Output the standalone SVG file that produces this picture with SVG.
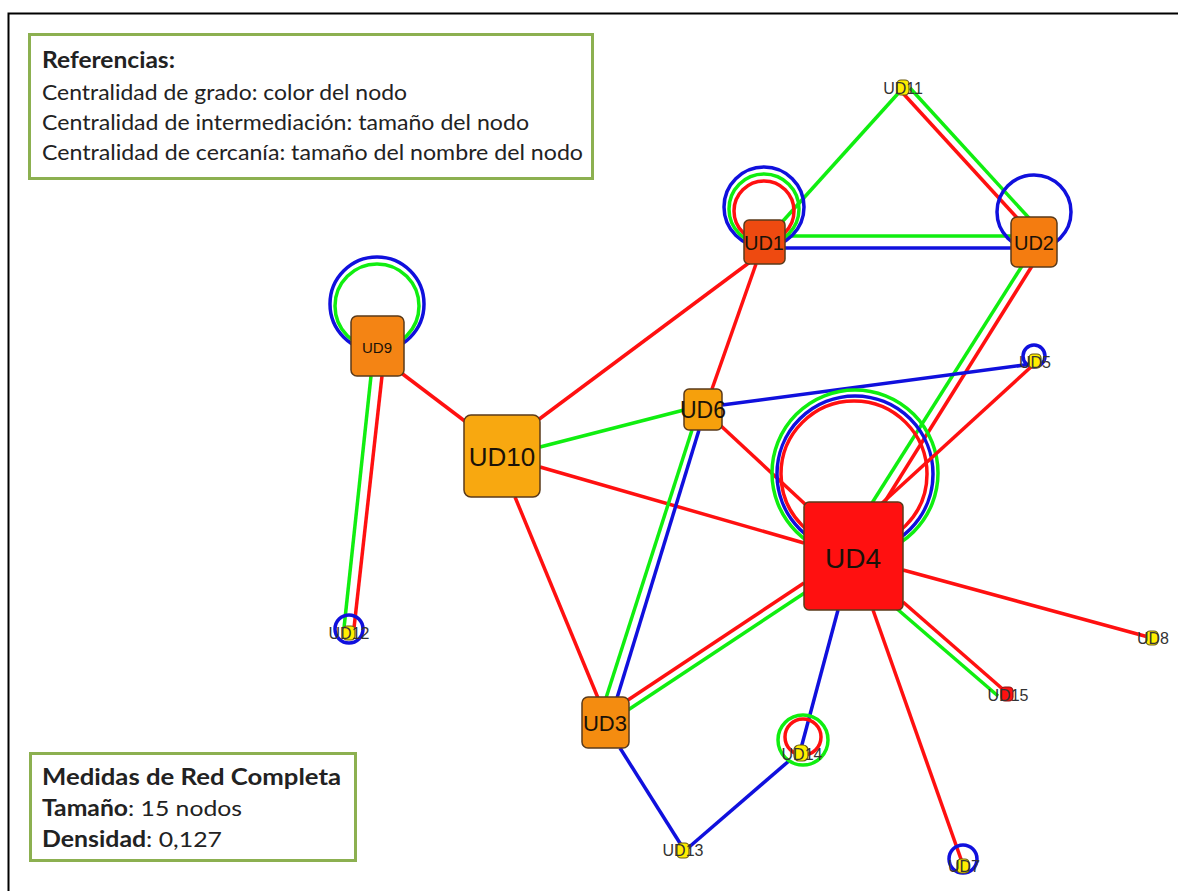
<svg xmlns="http://www.w3.org/2000/svg" width="1178" height="891" viewBox="0 0 1178 891">
<style>
.r{stroke:#ff1010;stroke-width:3.5;fill:none}
.g{stroke:#10ee10;stroke-width:3.5;fill:none}
.b{stroke:#1010dd;stroke-width:3.5;fill:none}
.nd{stroke:#5a3a1a;stroke-width:1.5}
.sm{fill:#ffee00;stroke:#6a5a10;stroke-width:1.2}
.lb{font-family:"Liberation Sans",Arial,sans-serif;fill:#1a1208;text-anchor:middle;dominant-baseline:central}
.ls{font-family:"Liberation Sans",Arial,sans-serif;fill:#333;text-anchor:middle;dominant-baseline:central;font-size:16px}
.lg{font-family:Lato,"Open Sans",sans-serif;fill:#222;font-size:22px}
.box{fill:#fff;stroke:#8cb050;stroke-width:3}
</style>
<rect width="1178" height="891" fill="#fff"/>
<path d="M8.5 891 V13.5 H1178" stroke="#000" stroke-width="2" fill="none"/>
<g id="connectors">
<line class="g" x1="903" y1="88" x2="764" y2="242"/>
<line class="r" x1="900" y1="90" x2="1030" y2="232"/>
<line class="g" x1="910" y1="88" x2="1040" y2="230"/>
<line class="g" x1="785" y1="236" x2="1011" y2="236"/>
<line class="b" x1="785" y1="248" x2="1011" y2="248"/>
<circle class="b" cx="764" cy="207" r="40"/>
<circle class="g" cx="764" cy="209" r="35"/>
<circle class="r" cx="764" cy="211" r="30"/>
<circle class="b" cx="1034" cy="212" r="37"/>
<line class="g" x1="1022" y1="266" x2="872" y2="503"/>
<line class="r" x1="1032" y1="266" x2="884" y2="503"/>
<line class="r" x1="750" y1="262" x2="538" y2="420"/>
<line class="r" x1="756" y1="264" x2="712" y2="389"/>
<circle class="b" cx="377" cy="304" r="47"/>
<circle class="g" cx="377" cy="306" r="42"/>
<line class="r" x1="400" y1="372" x2="466" y2="422"/>
<line class="g" x1="371" y1="376" x2="344" y2="628"/>
<line class="r" x1="382" y1="376" x2="354" y2="628"/>
<circle class="b" cx="349" cy="629" r="14"/>
<line class="g" x1="540" y1="447" x2="684" y2="410"/>
<line class="r" x1="540" y1="467" x2="804" y2="543"/>
<line class="r" x1="515" y1="497" x2="598" y2="698"/>
<line class="b" x1="722" y1="405" x2="1032" y2="364"/>
<circle class="b" cx="1034" cy="356" r="11"/>
<line class="r" x1="720" y1="425" x2="806" y2="505"/>
<line class="g" x1="692" y1="430" x2="606" y2="698"/>
<line class="b" x1="699" y1="430" x2="617" y2="698"/>
<circle class="g" cx="855" cy="473" r="83"/>
<circle class="b" cx="855" cy="474" r="78"/>
<circle class="r" cx="854" cy="474" r="73"/>
<line class="r" x1="880" y1="505" x2="1032" y2="366"/>
<line class="r" x1="903" y1="570" x2="1152" y2="638"/>
<line class="g" x1="896" y1="608" x2="998" y2="696"/>
<line class="r" x1="903" y1="602" x2="1006" y2="692"/>
<line class="r" x1="873" y1="610" x2="962" y2="862"/>
<line class="b" x1="838" y1="610" x2="800" y2="752"/>
<line class="r" x1="804" y1="583" x2="628" y2="700"/>
<line class="g" x1="806" y1="592" x2="628" y2="710"/>
<line class="b" x1="620" y1="748" x2="683" y2="848"/>
<line class="b" x1="790" y1="760" x2="688" y2="848"/>
<circle class="g" cx="803" cy="740" r="25"/>
<circle class="r" cx="803" cy="737" r="18"/>
<circle class="b" cx="963" cy="859" r="14"/>
</g>
<g id="UD11"><rect class="sm" x="897" y="80" width="12" height="15" rx="4"/><text class="ls" x="903" y="88">UD11</text></g>
<g id="UD1"><rect class="nd" x="744" y="220" width="41" height="44" rx="5" fill="#ee4a10"/><text class="lb" x="764" y="243" font-size="20">UD1</text></g>
<g id="UD2"><rect class="nd" x="1011" y="217" width="46" height="50" rx="6" fill="#f47c10"/><text class="lb" x="1034" y="243" font-size="20">UD2</text></g>
<g id="UD9"><rect class="nd" x="351" y="316" width="53" height="60" rx="6" fill="#f48414"/><text class="lb" x="377" y="347" font-size="15">UD9</text></g>
<g id="UD12"><rect class="sm" x="343" y="626" width="12" height="14" rx="4"/><text class="ls" x="349" y="633" font-size="9">UD12</text></g>
<g id="UD10"><rect class="nd" x="464" y="415" width="76" height="82" rx="7" fill="#f8a810"/><text class="lb" x="502" y="457" font-size="26">UD10</text></g>
<g id="UD6"><rect class="nd" x="684" y="389" width="38" height="41" rx="5" fill="#f6a00c"/><text class="lb" x="703" y="410" font-size="23">UD6</text></g>
<g id="UD5"><rect class="sm" x="1029" y="354" width="12" height="14" rx="4"/><text class="ls" x="1035" y="362">UD5</text></g>
<g id="UD4"><rect class="nd" x="804" y="502" width="99" height="108" rx="5" fill="#ff1010"/><text class="lb" x="853" y="558" font-size="28">UD4</text></g>
<g id="UD8"><rect class="sm" x="1146" y="631" width="12" height="14" rx="4"/><text class="ls" x="1153" y="638">UD8</text></g>
<g id="UD15"><rect x="1001" y="687" width="12" height="14" rx="4" fill="#ff1010" stroke="#8a1010" stroke-width="1.2"/><text class="ls" x="1008" y="695" font-size="17">UD15</text></g>
<g id="UD3"><rect class="nd" x="582" y="697" width="47" height="51" rx="6" fill="#f48c10"/><text class="lb" x="605" y="723" font-size="22">UD3</text></g>
<g id="UD14"><rect class="sm" x="794" y="745" width="14" height="16" rx="5"/><text class="ls" x="802" y="754">UD14</text></g>
<g id="UD13"><rect class="sm" x="677" y="843" width="12" height="15" rx="4"/><text class="ls" x="683" y="850">UD13</text></g>
<g id="UD7"><rect class="sm" x="957" y="859" width="12" height="14" rx="4"/><text class="ls" x="964" y="866">UD7</text></g>
<g id="legend-ref">
<rect class="box" x="29.5" y="34.5" width="563" height="144"/>
<text class="lg" x="42" y="68" font-weight="bold" textLength="133" lengthAdjust="spacingAndGlyphs">Referencias:</text>
<text class="lg" x="42" y="100" textLength="365" lengthAdjust="spacingAndGlyphs">Centralidad de grado: color del nodo</text>
<text class="lg" x="42" y="130" textLength="487" lengthAdjust="spacingAndGlyphs">Centralidad de intermediación: tamaño del nodo</text>
<text class="lg" x="42" y="160" textLength="541" lengthAdjust="spacingAndGlyphs">Centralidad de cercanía: tamaño del nombre del nodo</text>
</g>
<g id="legend-net">
<rect class="box" x="30.5" y="753.5" width="325" height="107"/>
<text class="lg" x="42" y="785" font-weight="bold" textLength="299" lengthAdjust="spacingAndGlyphs">Medidas de Red Completa</text>
<text class="lg" x="42" y="816" textLength="200" lengthAdjust="spacingAndGlyphs"><tspan font-weight="bold">Tamaño</tspan>:  15 nodos</text>
<text class="lg" x="42" y="847" textLength="180" lengthAdjust="spacingAndGlyphs"><tspan font-weight="bold">Densidad</tspan>: 0,127</text>
</g>
</svg>
